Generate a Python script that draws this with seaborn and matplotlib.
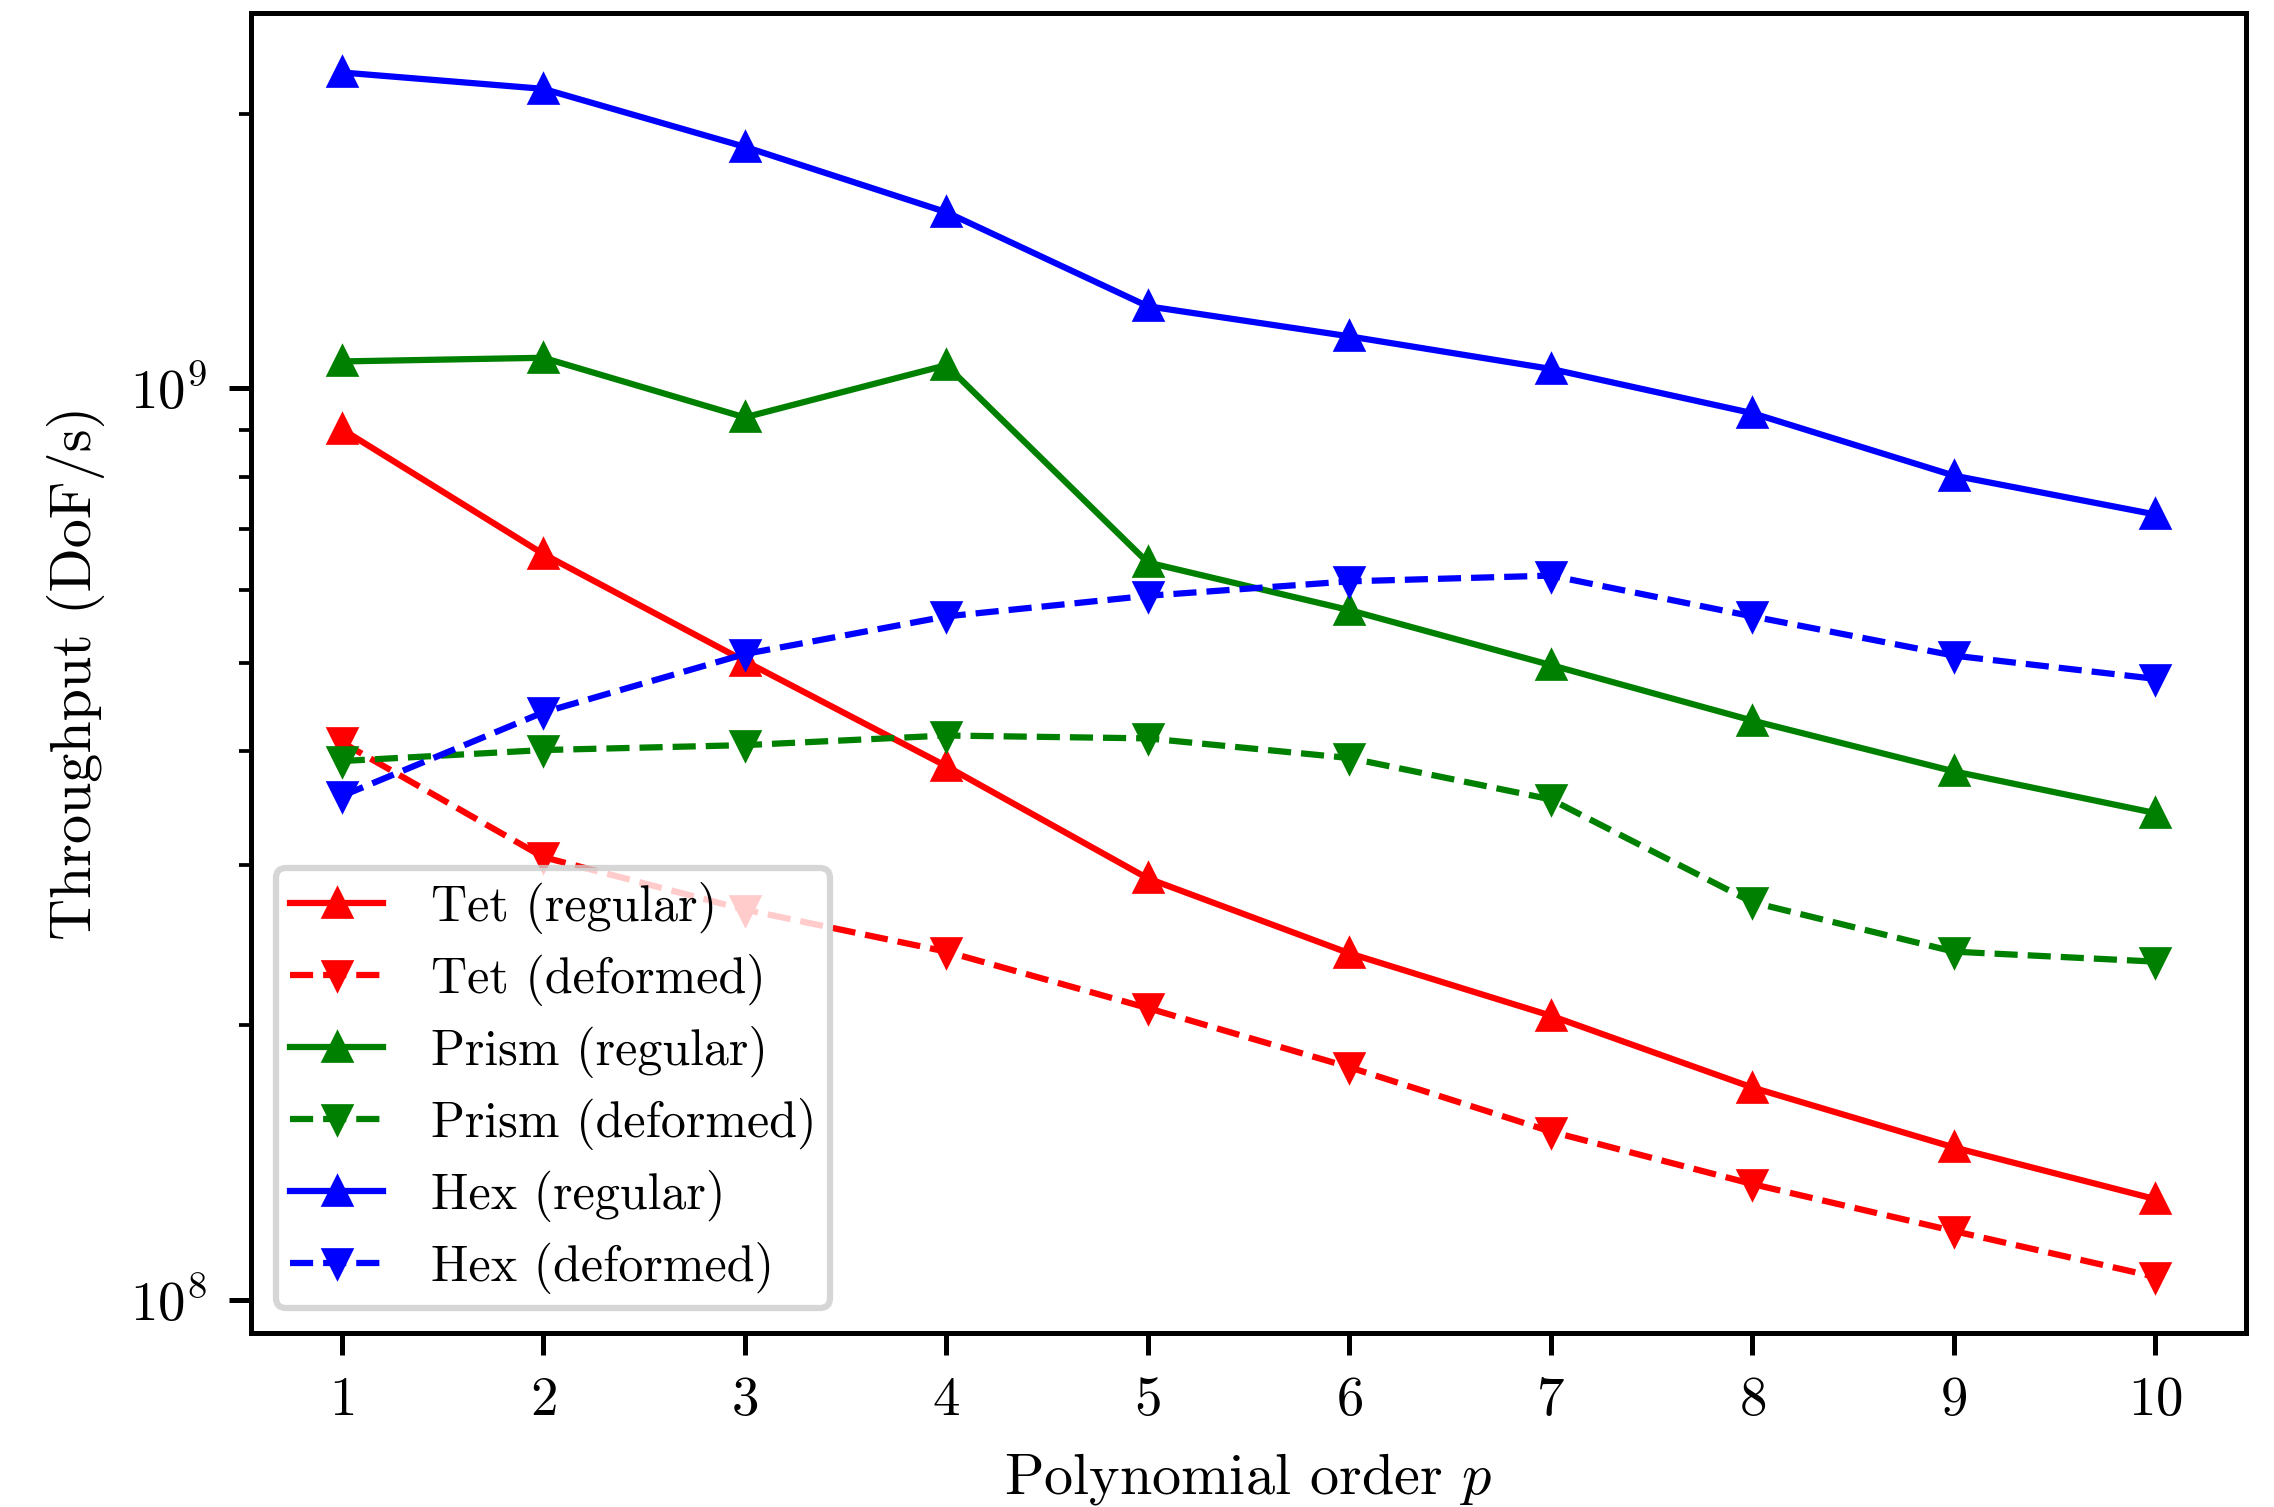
import numpy as np
import pandas as pd
import matplotlib
matplotlib.use("Agg")
import matplotlib.pyplot as plt
import matplotlib.ticker as mticker
import seaborn as sns

p_order = [1, 2, 3, 4, 5, 6, 7, 8, 9, 10]

tet_regular = [9.02e8, 6.58e8, 5.02e8, 3.85e8, 2.90e8, 2.40e8, 2.05e8, 1.71e8, 1.47e8, 1.29e8]
tet_deformed = [4.09e8, 3.06e8, 2.68e8, 2.41e8, 2.09e8, 1.80e8, 1.53e8, 1.34e8, 1.19e8, 1.06e8]
prism_regular = [1.07e9, 1.08e9, 9.29e8, 1.06e9, 6.44e8, 5.71e8, 4.97e8, 4.32e8, 3.80e8, 3.42e8]
prism_deformed = [3.90e8, 4.01e8, 4.06e8, 4.16e8, 4.13e8, 3.93e8, 3.54e8, 2.73e8, 2.41e8, 2.35e8]
hex_regular = [2.22e9, 2.13e9, 1.84e9, 1.56e9, 1.23e9, 1.14e9, 1.05e9, 9.39e8, 8.02e8, 7.27e8]
hex_deformed = [3.57e8, 4.41e8, 5.11e8, 5.62e8, 5.92e8, 6.14e8, 6.23e8, 5.62e8, 5.09e8, 4.80e8]

series_labels = ["Tet (regular)", "Tet (deformed)", "Prism (regular)",
                 "Prism (deformed)", "Hex (regular)", "Hex (deformed)"]
series_values = [tet_regular, tet_deformed, prism_regular,
                 prism_deformed, hex_regular, hex_deformed]
series_colors = ["red", "red", "green", "green", "blue", "blue"]
series_markers = ["^", "v", "^", "v", "^", "v"]
series_styles = ["-", "--", "-", "--", "-", "--"]

plt.rcParams.update({
    "font.family": ["cmr10", "DejaVu Serif"],
    "mathtext.fontset": "cm",
    "axes.formatter.use_mathtext": True,
    "axes.unicode_minus": False,
    "font.size": 8,
})

fig = plt.figure(figsize=(2274 / 450, 1507 / 450), dpi=450)
ax = fig.add_axes([0.1104, 0.1155, 0.9877 - 0.1104, 0.9914 - 0.1155])

for lab, vals, col, mk, ls in zip(series_labels, series_values, series_colors,
                                  series_markers, series_styles):
    df = pd.DataFrame({"p": p_order, "v": vals})
    sns.lineplot(data=df, x="p", y="v", ax=ax, color=col, marker=mk,
                 linestyle=ls, linewidth=1.0, markersize=4.3,
                 markeredgecolor=col, markeredgewidth=0.75, label=lab)

ax.set_yscale("log")
ax.set_ylim(9.2e7, 2.58e9)
ax.set_xticks(p_order)
ax.yaxis.set_minor_formatter(mticker.NullFormatter())
ax.tick_params(axis="both", which="both", labelsize=8.8)
ax.set_xlabel("Polynomial order $p$", fontsize=9.3)
ax.set_ylabel("Throughput (DoF/s)", fontsize=9.3)
ax.legend(loc="lower left", fontsize=8, handlelength=1.86, labelspacing=0.4,
          borderpad=0.28, handletextpad=0.95)

fig.savefig("out.png", dpi=450)
